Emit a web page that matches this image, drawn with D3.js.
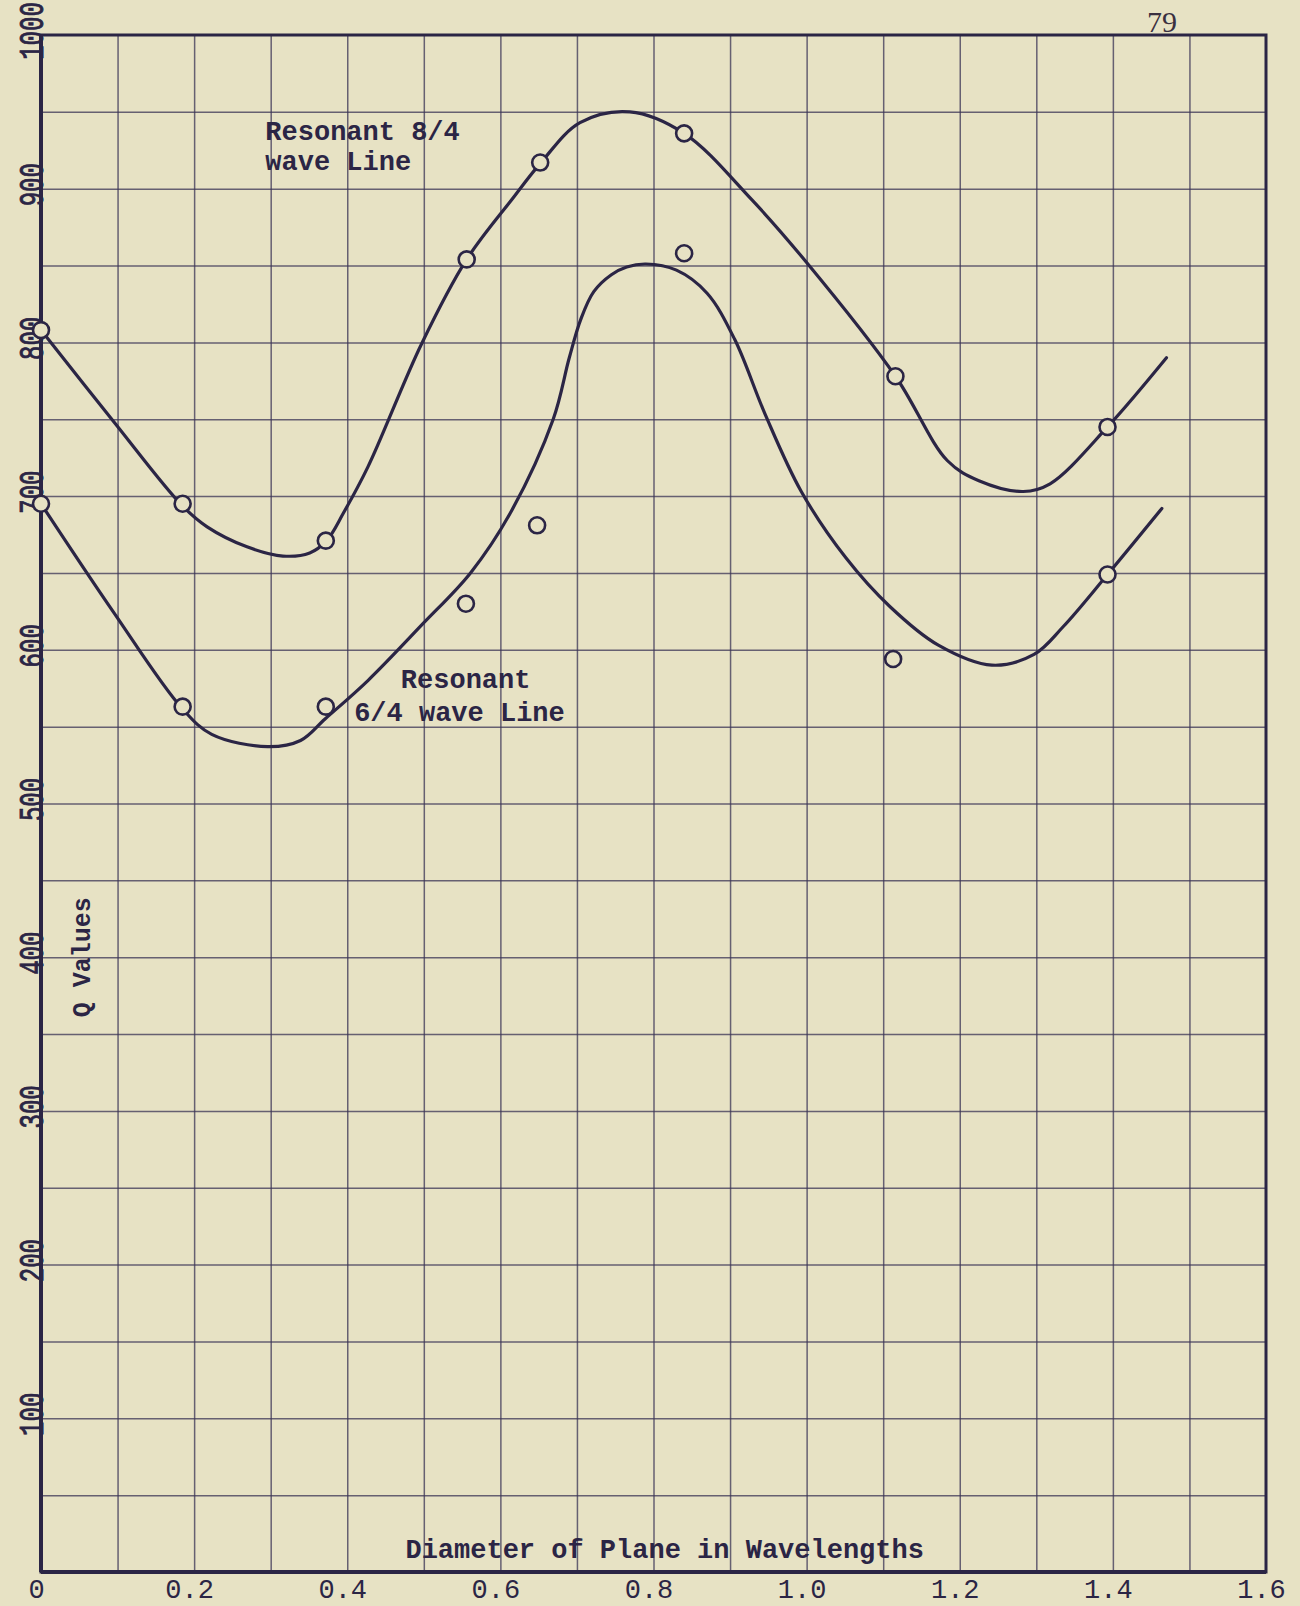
<!DOCTYPE html>
<html>
<head>
<meta charset="utf-8">
<script src="https://cdn.jsdelivr.net/npm/d3@7"></script>
<style>
  body { margin: 0; background: #e7e2c4; }
  svg { display: block; }
</style>
</head>
<body>
<div id="data_visualize"></div>
<script>
// observed points (diameter in wavelengths, Q value)
const diam8 = [0, 0.185, 0.372, 0.556, 0.652, 0.84, 1.116, 1.393]
const q8 = [808, 695, 671, 854, 917, 936, 778, 745]
const diam6 = [0, 0.185, 0.372, 0.555, 0.648, 0.84, 1.113, 1.393]
const q6 = [695, 563, 563, 630, 681, 858, 594, 649]

// hand drawn smooth curves
const curve8x = [0, 0.094, 0.184, 0.217, 0.269, 0.316, 0.351, 0.373, 0.395, 0.427, 0.497, 0.556, 0.615, 0.653, 0.704, 0.769, 0.84, 0.928, 1.0, 1.116, 1.184, 1.225, 1.283, 1.318, 1.393, 1.47]
const curve8q = [808, 749, 694, 680, 667, 661, 663, 671, 689, 719, 799, 854, 893, 917, 943, 950, 936, 893, 852, 778, 723, 710, 703, 708, 745, 790]
const curve6x = [0, 0.094, 0.184, 0.223, 0.296, 0.339, 0.371, 0.427, 0.497, 0.561, 0.613, 0.669, 0.69, 0.705, 0.722, 0.745, 0.765, 0.79, 0.83, 0.87, 0.906, 0.946, 0.993, 1.051, 1.109, 1.172, 1.242, 1.297, 1.335, 1.393, 1.464]
const curve6q = [695, 625, 562, 545, 537, 541, 555, 580, 616, 650, 689, 750, 790, 815, 833, 844, 849, 851, 847, 832, 802, 753, 703, 660, 628, 603, 590, 597, 615, 649, 692]

const xTicks = [0, 0.2, 0.4, 0.6, 0.8, 1.0, 1.2, 1.4, 1.6]
const yTicks = [100, 200, 300, 400, 500, 600, 700, 800, 900, 1000]

// text notes: [x, q, text]
const notes = [
	[0.293, 932, "Resonant 8/4"],
	[0.293, 912, "wave Line"],
	[0.470, 575, "Resonant"],
	[0.409, 554, "6/4 wave Line"]
]

const ink = "#2b2545"
const paper = "#e7e2c4"

// set the dimensions and margins of the graph
const margin = { top: 35, right: 34, bottom: 34, left: 41 }
const width = 1300 - margin.left - margin.right
const height = 1606 - margin.top - margin.bottom

const svg = d3.select("#data_visualize")
	.append("svg")
		.attr("width", width + margin.left + margin.right)
		.attr("height", height + margin.top + margin.bottom)

svg.append("rect")
	.attr("width", 1300).attr("height", 1606)
	.attr("fill", paper)

const g = svg.append("g")
	.attr("transform", `translate(${margin.left},${margin.top})`)

const x = d3.scaleLinear().domain([0, 1.6]).range([0, width])
const y = d3.scaleLinear().domain([0, 1000]).range([height, 0])

// grid, every 0.1 and every 50
g.append("g")
	.attr("transform", `translate(0,${height})`)
	.call(d3.axisBottom(x).tickValues(d3.range(1, 16).map(i => i / 10)).tickSize(-height).tickFormat(""))
	.call(a => a.select(".domain").remove())
	.selectAll("line")
		.attr("stroke", "#3b3456").attr("stroke-width", 1.5).attr("opacity", 0.75)

g.append("g")
	.call(d3.axisLeft(y).tickValues(d3.range(1, 20).map(i => i * 50)).tickSize(-width).tickFormat(""))
	.call(a => a.select(".domain").remove())
	.selectAll("line")
		.attr("stroke", "#3b3456").attr("stroke-width", 1.5).attr("opacity", 0.75)

// frame
g.append("rect")
	.attr("width", width).attr("height", height)
	.attr("fill", "none").attr("stroke", ink).attr("stroke-width", 3)
g.append("line")
	.attr("x1", 0).attr("x2", 0).attr("y1", 0).attr("y2", height)
	.attr("stroke", ink).attr("stroke-width", 4)
g.append("line")
	.attr("x1", 0).attr("x2", width).attr("y1", height).attr("y2", height)
	.attr("stroke", ink).attr("stroke-width", 4)

// X axis labels
g.append("g")
	.attr("transform", `translate(0,${height})`)
	.call(d3.axisBottom(x).tickValues(xTicks).tickSize(0).tickFormat(d => d === 0 ? "0" : d3.format(".1f")(d)))
	.call(a => a.select(".domain").remove())
	.selectAll("text")
		.attr("y", 26).attr("dy", 0).attr("dx", -5)
		.attr("fill", ink)
		.style("font-family", "'Liberation Mono', 'DejaVu Sans Mono', monospace")
		.style("font-size", "27px")

// Y axis labels, turned and tall
g.append("g")
	.selectAll("text")
	.data(yTicks)
	.join("text")
		.attr("transform", d => `translate(2,${y(d) - 4}) rotate(-90) scale(1,1.5)`)
		.attr("text-anchor", "middle")
		.attr("fill", ink)
		.attr("stroke", ink).attr("stroke-width", 0.6)
		.style("font-family", "'Liberation Mono', 'DejaVu Sans Mono', monospace")
		.style("font-size", "24px")
		.text(d => d)

// axis titles
g.append("text")
	.attr("transform", `translate(49,${y(400)}) rotate(-90)`)
	.attr("text-anchor", "middle")
	.attr("fill", ink)
	.style("font-family", "'Liberation Mono', monospace")
	.style("font-size", "25px").style("font-weight", "bold")
	.text("Q Values")

g.append("text")
	.attr("x", x(0.476)).attr("y", height - 14)
	.attr("fill", ink)
	.style("font-family", "'Liberation Mono', monospace")
	.style("font-size", "27px").style("font-weight", "bold")
	.text("Diameter of Plane in Wavelengths")

// page number
svg.append("text")
	.attr("x", 1162).attr("y", 32)
	.attr("text-anchor", "middle")
	.attr("fill", "#3a3040")
	.style("font-family", "'Liberation Serif', serif")
	.style("font-size", "30px")
	.text("79")

// curves
const line = d3.line()
	.x(d => x(d[0]))
	.y(d => y(d[1]))
	.curve(d3.curveCatmullRom.alpha(0.5))

const curves = [d3.zip(curve8x, curve8q), d3.zip(curve6x, curve6q)]
g.selectAll("path.curve")
	.data(curves)
	.join("path")
		.attr("class", "curve")
		.attr("d", line)
		.attr("fill", "none")
		.attr("stroke", ink)
		.attr("stroke-width", 3.2)
		.attr("stroke-linecap", "round")

// observed points
const pts = d3.zip(diam8, q8).concat(d3.zip(diam6, q6))
g.selectAll("circle.obs")
	.data(pts)
	.join("circle")
		.attr("class", "obs")
		.attr("cx", d => x(d[0]))
		.attr("cy", d => y(d[1]))
		.attr("r", 8)
		.attr("fill", paper)
		.attr("stroke", ink)
		.attr("stroke-width", 2.6)

// notes
g.selectAll("text.note")
	.data(notes)
	.join("text")
		.attr("class", "note")
		.attr("x", d => x(d[0]))
		.attr("y", d => y(d[1]))
		.attr("fill", ink)
		.style("font-family", "'Liberation Mono', monospace")
		.style("font-size", "27px").style("font-weight", "bold")
		.text(d => d[2])
</script>
</body>
</html>
